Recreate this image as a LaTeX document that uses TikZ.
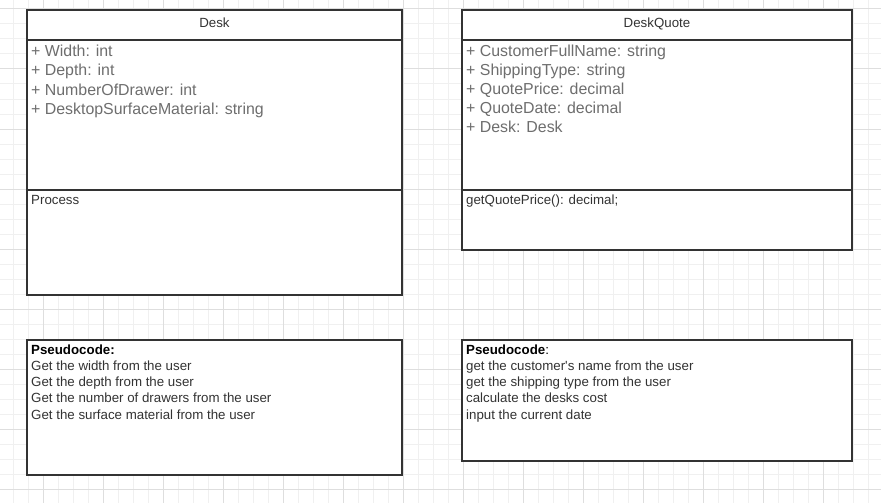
\documentclass[tikz,border=0pt]{standalone}
\usepackage{fontspec}
\setmainfont{Liberation Sans}
\usetikzlibrary{positioning}
\definecolor{boxgray}{HTML}{333333}
\definecolor{attrgray}{HTML}{6E6E6E}
\definecolor{gridminor}{HTML}{F0F0F0}
\definecolor{gridmajor}{HTML}{DEDEDE}

\tikzset{
  compartment/.style={draw=boxgray, line width=2pt, fill=white, inner sep=0pt, outer sep=0pt},
  titletext/.style={text=boxgray, font=\fontsize{13.3}{16}\selectfont, inner sep=0pt, anchor=base},
  attrtext/.style={text=attrgray, font=\fontsize{15.9}{19}\selectfont, inner sep=0pt, anchor=base west},
  smalltext/.style={text=boxgray, font=\fontsize{13.3}{16}\selectfont, inner sep=0pt, anchor=base west},
}

\begin{document}
\begin{tikzpicture}[x=1pt, y=-1pt]
\useasboundingbox (0,0) rectangle (881,503);

% background grid
\foreach \x in {13,28,...,881} \draw[gridminor, line width=1pt] (\x,0) -- (\x,503);
\foreach \y in {9,24,...,503} \draw[gridminor, line width=1pt] (0,\y) -- (881,\y);
\foreach \x in {43,103,...,881} \draw[gridmajor, line width=1pt] (\x,0) -- (\x,503);
\foreach \y in {9,69,...,503} \draw[gridmajor, line width=1pt] (0,\y) -- (881,\y);

% Desk class
\node (deskhead) at (27,10)[compartment, anchor=north west, minimum width=375, minimum height=30]{};
\node (deskattr) [compartment, below=0pt of deskhead, minimum width=375, minimum height=150]{};
\node (deskops) [compartment, below=0pt of deskattr, minimum width=375, minimum height=105]{};

\node (desktitle) [titletext] at (214.5,27.7) {Desk};
\foreach \t [count=\i from 0] in {+ Width: int, + Depth: int, + NumberOfDrawer: int, + DesktopSurfaceMaterial: string}
{
\node (deskfield\i) [attrtext] at (31,56.7+19.2*\i) {\t};
}
\node (deskproc) [smalltext] at (31,204) {Process};

% DeskQuote class
\node (quotehead) at (462,10)[compartment, anchor=north west, minimum width=390, minimum height=30]{};
\node (quoteattr) [compartment, below=0pt of quotehead, minimum width=390, minimum height=150]{};
\node (quoteops) [compartment, below=0pt of quoteattr, minimum width=390, minimum height=60]{};

\node (quotetitle) [titletext] at (657,27.7) {DeskQuote};
\foreach \t [count=\i from 0] in {+ CustomerFullName: string, + ShippingType: string, + QuotePrice: decimal, + QuoteDate: decimal, + Desk: Desk}
{
\node (quotefield\i) [attrtext] at (466,56.7+19*\i) {\t};
}
\node (quoteproc) [smalltext] at (466,204) {getQuotePrice(): decimal;};

% pseudocode notes
\node (deskpseudo) at (27,340)[compartment, anchor=north west, minimum width=375, minimum height=135]{};
\node (deskpchead) [smalltext, text=black] at (31,354) {\textbf{Pseudocode:}};
\foreach \t [count=\i from 0] in {Get the width from the user, Get the depth from the user, Get the number of drawers from the user, Get the surface material from the user}
{
\node (deskpc\i) [smalltext] at (31,370.3+16.3*\i) {\t};
}

\node (quotepseudo) at (462,340)[compartment, anchor=north west, minimum width=390, minimum height=121]{};
\node (quotepchead) [smalltext, text=black] at (466,354) {\textbf{Pseudocode}:};
\foreach \t [count=\i from 0] in {get the customer\textquotesingle s name from the user, get the shipping type from the user, calculate the desks cost, input the current date}
{
\node (quotepc\i) [smalltext] at (466,370.3+16.3*\i) {\t};
}

\end{tikzpicture}
\end{document}
